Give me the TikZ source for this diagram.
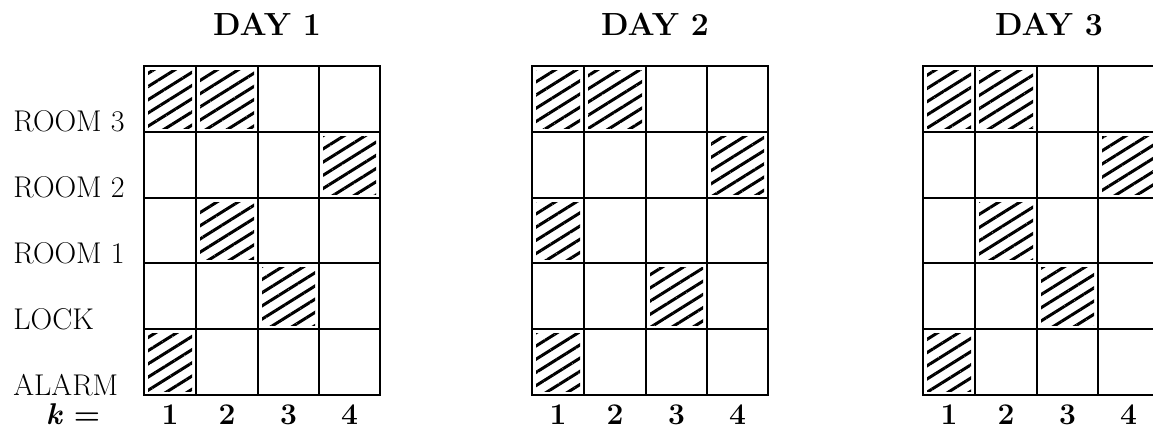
\documentclass[tikz,border=0pt]{standalone}
\usetikzlibrary{patterns.meta}

\begin{document}
\begin{tikzpicture}[
  x=0.5pt, y=0.5pt,
  cellline/.style={line width=1.4pt},
  hatched/.style={pattern={Lines[angle=32, distance=5.6pt, line width=1.5pt]}},
  daylab/.style={font=\fontsize{16}{18}\selectfont\bfseries, anchor=base},
  rowlab/.style={font=\fontsize{15}{17}\selectfont, anchor=base west, inner sep=0pt},
  numlab/.style={font=\fontsize{15}{17}\selectfont\bfseries, anchor=base, inner sep=0pt},
]
\useasboundingbox (0,0) rectangle (1153,430);

% ======================= row labels =======================
\node[rowlab] (room3) at (13,299) {ROOM 3};
\node[rowlab] (room2) at (13,233) {ROOM 2};
\node[rowlab] (room1) at (13,167) {ROOM 1};
\node[rowlab] (lock)  at (13,101) {LOCK};
\node[rowlab] (alarm) at (13,35)  {ALARM};
\node[numlab] (keq)   at (73,6)   {\textit{k} =};

% ======================= Day 1 =======================
\begin{scope}[shift={(144,0)}]
  \fill[hatched] (4,302)   rectangle (48,360);
  \fill[hatched] (56,302)  rectangle (110,360);
  \fill[hatched] (179,236) rectangle (232,294);
  \fill[hatched] (56,171)  rectangle (110,228);
  \fill[hatched] (118,105) rectangle (171,163);
  \fill[hatched] (4,39)    rectangle (48,97);

  \draw[cellline] (0,35) rectangle (236,364);
  \draw[cellline] (52,35) -- (52,364) (114,35) -- (114,364) (175,35) -- (175,364);
  \draw[cellline] (0,101) -- (236,101) (0,167) -- (236,167)
                  (0,232) -- (236,232) (0,298) -- (236,298);

  \node[daylab] (day1) at (123,395) {DAY 1};
  \node[numlab] (d1k1) at (26,6)    {1};
  \node[numlab] (d1k2) at (83,6)    {2};
  \node[numlab] (d1k3) at (144.5,6) {3};
  \node[numlab] (d1k4) at (205.5,6) {4};
\end{scope}

% ======================= Day 2 =======================
\begin{scope}[shift={(532,0)}]
  \fill[hatched] (4,302)   rectangle (48,360);
  \fill[hatched] (56,302)  rectangle (110,360);
  \fill[hatched] (179,236) rectangle (232,294);
  \fill[hatched] (4,171)   rectangle (48,228);
  \fill[hatched] (118,105) rectangle (171,163);
  \fill[hatched] (4,39)    rectangle (48,97);

  \draw[cellline] (0,35) rectangle (236,364);
  \draw[cellline] (52,35) -- (52,364) (114,35) -- (114,364) (175,35) -- (175,364);
  \draw[cellline] (0,101) -- (236,101) (0,167) -- (236,167)
                  (0,232) -- (236,232) (0,298) -- (236,298);

  \node[daylab] (day2) at (123,395) {DAY 2};
  \node[numlab] (d2k1) at (26,6)    {1};
  \node[numlab] (d2k2) at (83,6)    {2};
  \node[numlab] (d2k3) at (144.5,6) {3};
  \node[numlab] (d2k4) at (205.5,6) {4};
\end{scope}

% ======================= Day 3 (cut off at the right) =======================
\begin{scope}[shift={(923,0)}]
  \fill[hatched] (4,302)   rectangle (48,360);
  \fill[hatched] (56,302)  rectangle (110,360);
  \fill[hatched] (179,236) rectangle (232,294);
  \fill[hatched] (56,171)  rectangle (110,228);
  \fill[hatched] (118,105) rectangle (171,163);
  \fill[hatched] (4,39)    rectangle (48,97);

  \draw[cellline] (0,35) rectangle (236,364);
  \draw[cellline] (52,35) -- (52,364) (114,35) -- (114,364) (175,35) -- (175,364);
  \draw[cellline] (0,101) -- (236,101) (0,167) -- (236,167)
                  (0,232) -- (236,232) (0,298) -- (236,298);

  \node[daylab] (day3) at (126,395) {DAY 3};
  \node[numlab] (d3k1) at (26,6)    {1};
  \node[numlab] (d3k2) at (83,6)    {2};
  \node[numlab] (d3k3) at (144.5,6) {3};
  \node[numlab] (d3k4) at (205.5,6) {4};
\end{scope}
\end{tikzpicture}
\end{document}
